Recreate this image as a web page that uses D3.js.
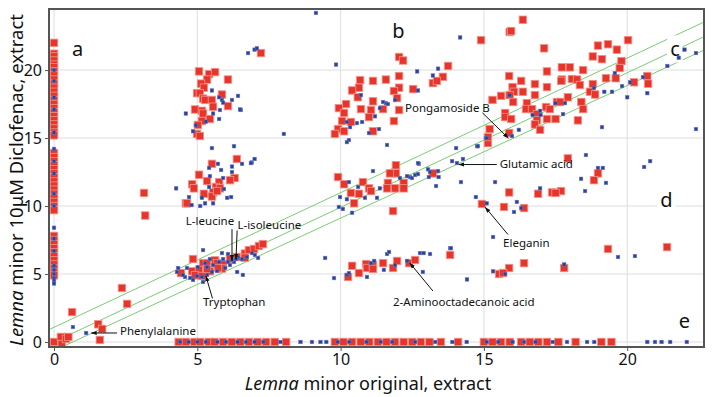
<!DOCTYPE html>
<html><head><meta charset="utf-8">
<script src="https://cdn.jsdelivr.net/npm/d3@7"></script>
<style>
html,body{margin:0;padding:0;background:#fff;}
svg{display:block;font-family:"Noto Sans","Open Sans",sans-serif;}
</style></head>
<body>
<svg id="chart" width="714" height="397"></svg>
<script>
// ---------- DATA ----------
const xTicks = [0, 5, 10, 15, 20];
const yTicks = [0, 5, 10, 15, 20];
const xDomain = [-0.175, 22.68];
const yDomain = [-0.37, 24.49];

// reference band lines: [slope, intercept]
const bandLines = [[0.99, 1.08], [0.99, 0.0], [0.975, -0.64]];

// column "a": points with x = 0
const redColumnY = [22.0,21.2,21.0,20.7,20.4,20.2,19.9,19.6,19.3,19.0,18.7,18.4,18.1,17.8,17.5,17.2,16.9,16.6,16.3,16.0,15.7,15.4,15.2,
  13.9,13.6,13.3,13.0,12.7,12.4,12.1,11.8,11.5,11.2,10.9,10.6,10.3,10.0,9.7,
  7.8,7.5,7.2,6.9,6.6,6.3,6.0,5.7,5.4,5.1,4.9,0.0];
const blueColumnY = [20.0,19.2,18.0,17.1,15.4,14.2,13.3,12.4,10.9,10.0,8.4,7.6,6.7,5.6,5.3,5.0,4.7,4.5,4.3];

// row "e": points with y = 0
const redRowX = [4.35,4.6,4.9,5.1,5.4,5.6,5.9,6.2,6.5,6.8,7.1,7.4,7.7,8.1,9.8,10.1,10.4,10.7,11.0,11.3,11.6,11.9,12.2,12.5,12.8,13.1,13.5,14.1,
  15.0,15.3,15.6,15.9,16.3,16.6,16.9,17.2,17.6,18.2,19.1,19.45];
const blueRowX = [4.4,4.7,5.0,5.3,5.7,6.0,6.4,6.7,7.0,7.3,7.9,8.6,9.0,9.3,9.5,9.9,10.3,10.9,11.4,11.8,12.6,13.3,13.9,14.4,
  15.1,15.5,16.0,16.4,16.8,17.4,17.9,18.6,18.85,20.7,20.97,21.2,21.5,22.08];

// other points [x, y]
const redPoints = [
  // near origin & low
  [0.24,0.37],[0.27,-0.15],[0.42,0.22],[0.5,0.37],[0.63,2.2],[1.54,1.3],[1.68,0.96],[1.6,0.15],[2.37,3.97],[2.55,2.8],[3.18,9.3],[3.14,10.96],
  // cluster (5, 17-20)
  [5.06,19.9],[5.41,19.7],[5.62,19.85],[5.34,19.3],[6.07,19.3],[5.13,19.0],[5.23,18.7],[4.99,18.3],[5.09,18.3],[5.2,17.9],[5.27,17.8],[5.51,17.8],
  [5.86,18.2],[5.55,17.3],[6.07,17.35],[4.92,17.1],[5.16,17.0],[5.2,16.8],[5.44,16.4],[5.16,16.25],[5.02,15.96],[4.99,15.3],[5.09,15.15],
  // cluster (5, 10-13)
  [6.38,13.46],[5.51,13.1],[5.06,12.3],[6.3,12.06],[6.14,11.9],[5.76,11.76],[5.34,11.84],[4.82,11.6],[4.88,11.3],[5.65,11.4],[5.79,11.3],
  [5.55,11.0],[5.23,10.9],[5.51,10.7],[5.69,11.1],[4.6,10.2],[4.64,10.2],
  // cluster (5, 5-7)
  [4.85,6.1],[4.43,5.07],[4.82,5.2],[5.2,5.8],[5.34,5.8],[5.62,6.0],[5.69,5.8],[5.9,5.7],[5.86,5.4],[5.44,5.2],[5.06,5.3],[4.92,4.9],[5.16,4.85],
  [6.14,6.1],[6.38,6.25],[6.66,6.5],[6.8,6.76],[6.98,6.84],[7.15,7.06],[7.29,7.2],[6.66,6.2],[5.72,5.44],[5.34,5.37],
  // cluster b
  [10.68,19.26],[11.13,19.2],[11.58,19.3],[12.04,19.56],[10.64,18.7],[10.4,18.5],[10.6,18.0],[12.04,18.7],[11.86,18.46],[12.53,18.6],[11.97,17.94],
  [11.13,17.7],[10.19,17.5],[9.94,17.2],[10.71,17.13],[11.06,17.06],[10.12,16.84],[11.48,17.13],[12.04,17.06],[10.99,16.54],[10.05,16.25],
  [10.36,16.18],[11.86,16.25],[9.91,15.66],[9.8,15.3],[10.12,15.5],[11.13,15.5],[13.75,20.3],[13.57,19.5],[13.22,19.04],[13.36,19.2],
  [12.04,20.96],[12.18,20.7],[14.9,22.2],[7.22,21.25],
  // cluster c
  [15.9,22.8],[17.1,21.6],[18.98,21.8],[19.33,21.9],[19.64,21.5],[20.03,22.2],[18.8,21.0],[19.12,20.8],[19.8,20.66],[19.74,20.15],[17.72,20.2],
  [18.0,20.2],[18.46,20.0],[17.2,19.9],[15.88,19.56],[16.3,19.2],[17.72,19.3],[18.07,19.34],[18.25,19.3],[17.7,19.2],[19.26,19.4],[19.6,19.4],
  [20.7,19.56],[20.73,19.0],[20.24,19.1],[16.0,18.75],[16.78,18.97],[17.2,18.75],[18.35,18.9],[18.8,18.97],[16.05,18.4],[16.36,18.4],[15.9,18.16],
  [16.78,18.16],[15.6,18.1],[15.3,17.8],[18.7,18.4],[18.88,18.2],[17.93,18.0],[16.02,17.65],[16.5,17.57],[17.55,17.65],[17.66,17.65],[18.4,17.65],
  [16.47,17.13],[16.68,17.13],[17.17,17.28],[17.3,17.13],[18.46,17.13],[15.74,16.84],[15.74,16.54],[16.85,16.76],[16.85,16.3],[17.2,16.4],
  [17.5,16.4],[18.28,16.3],[15.95,16.4],[16.78,16.0],[16.96,15.6],[15.2,15.66],[15.88,15.37],[15.14,14.63],[15.14,15.07],
  [16.36,23.7],[15.95,22.87],
  // middle diagonal
  [11.93,13.0],[11.93,12.4],[11.72,12.4],[9.91,12.13],[10.78,11.76],[10.99,11.3],[11.65,11.7],[11.62,11.3],[11.9,11.3],[12.2,11.7],[12.2,11.3],
  [13.22,12.4],[10.12,11.6],[10.36,10.96],[10.64,10.9],[11.06,11.1],[17.93,13.5],[18.98,12.4],[18.84,11.9],[15.88,11.0],[16.89,10.9],
  [17.38,11.0],[17.69,11.1],[17.5,10.96],[14.93,10.15],[15.7,9.93],[16.4,9.85],[11.83,9.63],[10.47,10.2],
  // d area & lower
  [19.33,6.84],[21.39,6.98],[16.4,5.8],[15.88,5.44],[15.53,5.0],[15.67,5.07],[17.8,5.44],[13.82,6.4],
  // 2-aminooctadecanoic cluster
  [10.4,5.6],[10.64,5.07],[10.89,5.73],[10.92,5.44],[11.13,5.66],[11.13,5.37],[11.48,5.8],[11.97,5.96],[11.83,5.44],[12.39,5.8],[12.6,6.03],[10.26,4.78]
];

const bluePoints = [
  [0.66,1.1],[1.12,0.66],
  // cluster (5, 15-20)
  [5.51,18.5],[5.76,18.0],[5.86,17.8],[6.42,18.1],[6.21,17.8],[5.9,17.6],[5.79,17.06],[6.52,17.06],[4.6,16.8],[5.55,16.8],[5.76,16.4],
  [5.3,16.2],[4.85,15.5],[4.95,15.95],[6.49,17.1],
  // cluster (5, 10-14)
  [5.51,14.26],[6.28,14.4],[7.0,13.46],[6.9,13.2],[5.41,12.8],[5.72,13.1],[6.21,12.9],[6.56,13.1],[5.83,12.65],[6.21,12.5],[5.44,12.2],
  [5.9,12.06],[5.41,11.4],[5.93,11.25],[4.26,11.3],[4.71,10.66],[5.16,10.6],[6.04,10.6],[6.18,10.66],[4.8,10.07],[5.1,10.0],[5.27,10.2],[5.55,10.2],
  [6.87,13.16],
  // cluster (5, 4-7)
  [5.2,6.76],[5.86,6.54],[6.07,6.47],[5.76,5.88],[5.55,5.66],[5.34,5.51],[5.02,5.51],[4.64,5.44],[4.33,5.44],[4.29,5.15],[4.57,4.78],[4.75,4.71],
  [4.85,4.56],[5.16,4.78],[5.34,4.93],[5.51,5.15],[5.69,5.22],[5.97,5.44],[6.14,5.66],[6.28,5.88],[6.42,6.25],[6.56,6.1],[6.73,6.25],[6.91,6.54],
  [7.01,6.4],[6.59,4.93],[6.39,5.15],[5.2,4.41],[4.99,4.85],[4.5,4.93],[7.12,6.18],[5.9,6.1],[6.07,5.88],[5.44,6.1],[5.27,5.8],[6.21,6.03],[6.35,6.1],
  // top scatter
  [9.14,24.2],[7.0,21.5],[7.08,21.6],[6.77,21.25],[8.02,15.3],[14.17,22.4],
  // cluster b
  [9.84,20.4],[12.67,19.9],[13.4,20.1],[13.22,19.6],[10.71,18.16],[11.58,17.57],[11.65,17.5],[11.48,17.65],[12.7,18.5],[11.9,17.8],[11.2,16.6],
  [11.37,17.2],[10.57,16.1],[10.75,16.18],[10.22,16.18],[10.33,15.8],[10.99,15.37],[11.34,15.66],[10.29,14.85],[10.22,14.7],[11.62,14.49],
  // cluster c
  [15.9,18.16],[16.96,17.0],[16.7,16.7],[16.98,16.7],[17.5,17.57],[17.83,17.57],[17.76,16.76],[18.84,18.68],[19.2,18.4],[19.47,18.4],[19.57,19.78],
  [19.82,18.82],[20.0,18.0],[20.1,19.1],[20.55,19.48],[20.7,18.3],[19.12,15.8],[21.4,20.3],[21.8,20.9],[15.98,15.15],[16.22,15.6],[15.07,15.0],
  [14.76,14.4],[14.03,14.26],[22.0,21.5],[22.4,21.25],[22.4,15.66],
  // right middle
  [18.56,13.75],[18.98,12.8],[19.15,12.8],[19.26,11.7],[18.39,12.0],[18.53,11.1],[20.59,12.87],[20.8,13.3],[15.39,11.76],[16.96,11.3],
  // middle diagonal
  [11.13,12.57],[12.07,12.06],[12.42,12.13],[12.6,12.28],[12.73,13.1],[13.05,12.7],[13.4,12.57],[13.08,12.13],[13.42,12.13],[13.89,13.3],
  [10.29,11.76],[11.37,11.3],[12.7,13.16],[13.12,12.5],[14.06,13.16],[14.27,13.46],[14.79,14.4],[15.1,15.0],[14.2,11.76],[14.72,10.66],
  [13.33,11.47],[12.7,12.35],[12.49,12.06],[12.32,12.2],[10.61,11.4],[9.98,10.66],[10.22,10.5],[10.85,10.6],[11.27,10.6],
  [9.94,9.93],[10.08,9.78],[10.4,9.5],[15.1,10.2],[16.05,9.56],[16.3,9.85],[16.15,10.3],
  // lower right
  [15.32,7.72],[19.68,6.25],[20.27,6.32],[15.32,5.2],[17.8,5.7],[15.74,5.0],[14.41,4.6],[13.82,6.9],
  // 2-aminooctadecanoic cluster
  [9.46,6.18],[9.77,4.7],[10.22,4.93],[10.29,5.07],[10.92,4.78],[11.06,5.8],[11.17,5.96],[11.51,5.3],[11.62,6.47],[11.69,6.62],[11.9,5.66],
  [12.32,5.96],[12.77,6.54],[12.9,6.54],[13.12,6.47],[12.87,5.15],[13.85,6.9]
];

// region letters [label, x, y] (data coordinates)
const regionLabels = [["a", 0.63, 21.0], ["b", 11.8, 22.35], ["c", 21.5, 21.0], ["d", 21.15, 9.95], ["e", 21.8, 1.0]];

// annotations: text, text anchor point [x,y], arrow from [x,y] to [x,y]
const annotations = [
  {text: "Pongamoside B", at: [12.25, 16.9], from: [14.95, 16.85], to: [15.85, 15.0]},
  {text: "Glutamic acid", at: [15.55, 12.82], from: [15.45, 13.05], to: [14.13, 13.05]},
  {text: "Eleganin", at: [15.67, 7.0], from: [15.84, 7.9], to: [15.05, 9.9]},
  {text: "2-Aminooctadecanoic acid", at: [11.83, 2.65], from: [13.22, 3.75], to: [12.42, 5.8]},
  {text: "Tryptophan", at: [5.2, 2.65], from: [5.53, 3.2], to: [5.3, 4.85]},
  {text: "L-leucine", at: [4.6, 8.6], from: [6.21, 8.3], to: [6.21, 6.0]},
  {text: "L-isoleucine", at: [6.4, 8.3], from: [6.39, 8.2], to: [6.35, 6.1]},
  {text: "Phenylalanine", at: [2.3, 0.5], from: [2.2, 0.66], to: [1.3, 0.66]}
];

// ---------- CHART ----------
const svg = d3.select("#chart");
const L = 49, R = 704, T = 9, B = 347;
const x = d3.scaleLinear().domain(xDomain).range([L, R]);
const y = d3.scaleLinear().domain(yDomain).range([B, T]);

// grid
const grid = svg.append("g");
grid.selectAll("line.vx").data(xTicks).join("line")
  .attr("x1", d => x(d)).attr("x2", d => x(d)).attr("y1", T).attr("y2", B)
  .attr("stroke", "#dedede").attr("stroke-width", 1);
grid.selectAll("line.hy").data(yTicks).join("line")
  .attr("y1", d => y(d)).attr("y2", d => y(d)).attr("x1", L).attr("x2", R)
  .attr("stroke", "#dedede").attr("stroke-width", 1);

svg.append("clipPath").attr("id", "plot").append("rect")
  .attr("x", L).attr("y", T).attr("width", R - L).attr("height", B - T);

// band lines
svg.append("g").attr("clip-path", "url(#plot)")
  .selectAll("line").data(bandLines).join("line")
  .attr("x1", x(xDomain[0])).attr("x2", x(xDomain[1]))
  .attr("y1", d => y(d[0] * xDomain[0] + d[1]))
  .attr("y2", d => y(d[0] * xDomain[1] + d[1]))
  .attr("stroke", "#7ccb74").attr("stroke-width", 1);

// region letter boxes and letters
const letters = svg.append("g");
regionLabels.forEach(([t, lx, ly]) => {
  const tx = letters.append("text").attr("x", x(lx)).attr("y", y(ly))
    .attr("font-size", 20).attr("fill", "#111").text(t);
  const bb = tx.node().getBBox();
  letters.insert("rect", "text").attr("x", bb.x - 3).attr("y", bb.y).attr("width", bb.width + 6).attr("height", bb.height)
    .attr("fill", "#fff");
});

// points
const allRed = redColumnY.map(v => [0, v]).concat(redRowX.map(v => [v, 0])).concat(redPoints);
const allBlue = blueColumnY.map(v => [0, v]).concat(blueRowX.map(v => [v, 0])).concat(bluePoints);
const rs = 7.5, bs = 3.6;
const pts = svg.append("g").attr("clip-path", "url(#plot)");
pts.selectAll("rect.red").data(allRed).join("rect").attr("class", "red")
  .attr("x", d => x(d[0]) - rs / 2).attr("y", d => y(d[1]) - rs / 2)
  .attr("width", rs).attr("height", rs)
  .attr("fill", "#e8352b").attr("stroke", "#f2958c").attr("stroke-width", 0.8);
pts.selectAll("rect.blue").data(allBlue).join("rect").attr("class", "blue")
  .attr("x", d => x(d[0]) - bs / 2).attr("y", d => y(d[1]) - bs / 2)
  .attr("width", bs).attr("height", bs)
  .attr("fill", "#2c3f9c").attr("stroke", "#7080c0").attr("stroke-width", 0.5);

// annotations
svg.append("defs").append("marker").attr("id", "arr").attr("viewBox", "0 0 10 10")
  .attr("refX", 9).attr("refY", 5).attr("markerWidth", 6).attr("markerHeight", 6).attr("orient", "auto")
  .append("path").attr("d", "M0,1.5L10,5L0,8.5Z").attr("fill", "#111");
const ann = svg.append("g");
annotations.forEach(a => {
  ann.append("line").attr("x1", x(a.from[0])).attr("y1", y(a.from[1]))
    .attr("x2", x(a.to[0])).attr("y2", y(a.to[1]))
    .attr("stroke", "#111").attr("stroke-width", 1).attr("marker-end", "url(#arr)");
  ann.append("text").attr("x", x(a.at[0])).attr("y", y(a.at[1]))
    .attr("font-size", 11.5).attr("fill", "#111").text(a.text);
});

// frame
svg.append("rect").attr("x", L).attr("y", T).attr("width", R - L).attr("height", B - T)
  .attr("fill", "none").attr("stroke", "#555").attr("stroke-width", 2);

// axes
const xAxis = svg.append("g").attr("transform", `translate(0,${B})`)
  .call(d3.axisBottom(x).tickValues(xTicks).tickSize(4).tickPadding(3).tickFormat(d3.format("d")));
const yAxis = svg.append("g").attr("transform", `translate(${L},0)`)
  .call(d3.axisLeft(y).tickValues(yTicks).tickSize(4).tickPadding(3).tickFormat(d3.format("d")));
[xAxis, yAxis].forEach(g => {
  g.select(".domain").remove();
  g.selectAll(".tick line").attr("stroke", "#555");
  g.selectAll(".tick text").attr("font-size", 16).attr("fill", "#111").attr("font-family", "Noto Sans, sans-serif");
});

// axis titles
const xt = svg.append("text").attr("x", 368).attr("y", 390)
  .attr("text-anchor", "middle").attr("font-size", 18).attr("fill", "#111");
xt.append("tspan").attr("font-style", "italic").text("Lemna");
xt.append("tspan").text(" minor original, extract");

const yt = svg.append("text").attr("transform", `translate(23,${(T + B) / 2 + 2}) rotate(-90)`)
  .attr("text-anchor", "middle").attr("font-size", 18.5).attr("fill", "#111");
yt.append("tspan").attr("font-style", "italic").text("Lemna");
yt.append("tspan").text(" minor 10μM Diclofenac, extract");
</script>
</body></html>
